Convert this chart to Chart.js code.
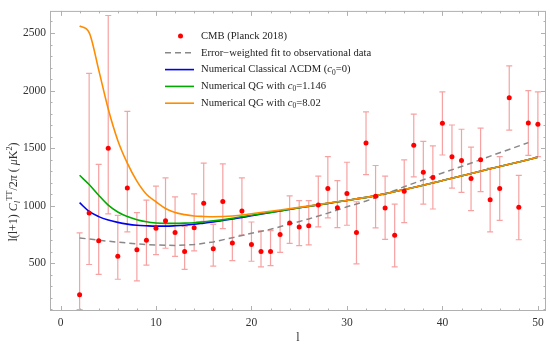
<!DOCTYPE html>
<html>
<head>
<meta charset="utf-8">
<script src="https://cdn.jsdelivr.net/npm/chart.js@4.4.0/dist/chart.umd.min.js"></script>
<style>
  html, body { margin: 0; padding: 0; background: #fff; }
</style>
</head>
<body>
<canvas id="myChart" width="550" height="345"></canvas>
<script>
// Planck 2018 TT low-l points
const ells = [2,3,4,5,6,7,8,9,10,11,12,13,14,15,16,17,18,19,20,21,22,23,24,25,26,
  27,28,29,30,31,32,33,34,35,36,37,38,39,40,41,42,43,44,45,46,47,48,49,50];
const cmb = [227,937,696,1499,560,1153,617,699,804,869,767,602,809,1022,625,1037,676,954,662,602,602,750,849,815,826,
  1005,1150,983,1105,767,1545,1082,980,744,1125,1525,1290,1244,1715,1426,1392,1235,1400,1051,1150,1937,986,1718,1707];
const cmbHigh = [764,2150,1358,2652,915,1820,940,1048,1170,1241,1077,821,1102,1369,838,1363,886,1241,858,781,784,957,1085,1043,1043,
  1256,1426,1218,1377,1034,1814,1349,1256,1014,1397,1795,1559,1520,1988,1701,1664,1508,1673,1326,1426,2215,1264,1999,1988];
const cmbLow = [97,489,404,928,361,773,347,483,574,630,560,446,608,864,474,801,523,744,517,468,480,594,673,653,659,
  815,894,809,830,494,1269,807,707,469,852,1250,1014,971,1440,1153,1116,957,1122,773,872,1656,704,1437,1426];

// error-weighted fit
const fitL = [2,4,6,8,10,12,14,16,18,20,22,24,26,28,30,32,34,36,38,40,42,44,46,49];
const fitVals = [720,700,683,668,658,655,662,685,722,760,795,840,885,935,990,1040,1100,1165,1225,1284,1340,1400,1460,1548];

// model curves
const curveL = [2,3,4,5,6,7,8,9,10,11,12,13,14,15,16,18,20,22,25,28,30,33,36,40,45,50];
const lcdm = [1026,950,905,875,855,840,830,825,822,822,825,830,838,848,858,884,912,940,982,1020,1045,1087,1140,1218,1320,1420];
const qg1 = [1264,1184,1090,1005,945,905,878,860,850,846,846,848,852,860,868,890,917,942,982,1020,1045,1087,1140,1218,1320,1420];
const qg8 = [2561,2504,2180,1840,1567,1369,1213,1099,1034,975,940,922,910,906,904,910,930,952,985,1022,1045,1087,1140,1218,1320,1420];

const xTicks = [0,10,20,30,40,50];
const yTicks = [500,1000,1500,2000,2500];

const FONT = '"Liberation Serif", "Times New Roman", serif';

const toXY = (xs, ys) => xs.map((x, i) => ({x: x, y: ys[i]}));

// draw text made of pieces: [text, style], style '' | 'i' | 'sub' | 'isub' | 'sup'
function drawRich(ctx, parts, x, y, size, measureOnly) {
    let cx = x;
    parts.forEach(([t, s]) => {
        let fs = size, dy = 0;
        if (s.includes('sub')) { fs = size * 0.7; dy = size * 0.28; }
        if (s.includes('sup')) { fs = size * 0.7; dy = -size * 0.38; }
        ctx.font = (s.startsWith('i') ? 'italic ' : '') + fs + 'px ' + FONT;
        if (!measureOnly) ctx.fillText(t, cx, y + dy);
        cx += ctx.measureText(t).width;
    });
    return cx - x;
}

// error bars under the points
const errorBars = {
    id: 'errorBars',
    beforeDatasetsDraw(chart) {
        const {ctx, chartArea: a, scales: {x, y}} = chart;
        ctx.save();
        ctx.beginPath();
        ctx.rect(a.left, a.top, a.right - a.left, a.bottom - a.top);
        ctx.clip();
        ctx.strokeStyle = 'rgba(240, 70, 70, 0.5)';
        ctx.lineWidth = 1.2;
        ells.forEach((l, i) => {
            const px = x.getPixelForValue(l);
            const top = y.getPixelForValue(cmbHigh[i]);
            const bot = y.getPixelForValue(cmbLow[i]);
            ctx.beginPath();
            ctx.moveTo(px, top); ctx.lineTo(px, bot);
            ctx.moveTo(px - 3, top); ctx.lineTo(px + 3, top);
            ctx.moveTo(px - 3, bot); ctx.lineTo(px + 3, bot);
            ctx.stroke();
        });
        ctx.restore();
    }
};

// Mathematica style frame with inward ticks, y title, legend
const frame = {
    id: 'frame',
    afterDraw(chart) {
        const {ctx, chartArea: a, scales: {x, y}} = chart;
        ctx.save();
        ctx.strokeStyle = '#b0b0b0';
        ctx.lineWidth = 1;
        ctx.strokeRect(a.left + 0.5, a.top + 0.5, a.right - a.left - 1, a.bottom - a.top - 1);
        ctx.beginPath();
        for (let v = 0; v <= 50; v += 2) {
            const px = Math.round(x.getPixelForValue(v)) + 0.5;
            const len = v % 10 === 0 ? 5 : 2.5;
            ctx.moveTo(px, a.bottom); ctx.lineTo(px, a.bottom - len);
            ctx.moveTo(px, a.top); ctx.lineTo(px, a.top + len);
        }
        for (let v = 100; v <= 2600; v += 100) {
            const py = Math.round(y.getPixelForValue(v)) + 0.5;
            const len = v % 500 === 0 ? 5 : 2.5;
            ctx.moveTo(a.left, py); ctx.lineTo(a.left + len, py);
            ctx.moveTo(a.right, py); ctx.lineTo(a.right - len, py);
        }
        ctx.stroke();

        // y axis title
        const yTitle = [['l(l+1) ', ''], ['C', 'i'], ['l', 'isub'], ['TT', 'sup'], ['/2', ''], ['π', 'i'],
            [' ( ', ''], ['μ', 'i'], ['K', ''], ['2', 'sup'], [')', '']];
        ctx.fillStyle = '#333';
        ctx.textBaseline = 'middle';
        const w = drawRich(ctx, yTitle, 0, 0, 12, true);
        ctx.translate(14, 192);
        ctx.rotate(-Math.PI / 2);
        drawRich(ctx, yTitle, -w / 2, 0, 12);
        ctx.restore();

        // legend
        const rows = [
            [['CMB (Planck 2018)', '']],
            [['Error\u2212weighted fit to observational data', '']],
            [['Numerical Classical \u039BCDM (', ''], ['c', 'i'], ['0', 'sub'], ['=0)', '']],
            [['Numerical QG with ', ''], ['c', 'i'], ['0', 'sub'], ['=1.146', '']],
            [['Numerical QG with ', ''], ['c', 'i'], ['0', 'sub'], ['=8.02', '']]
        ];
        ctx.save();
        ctx.textBaseline = 'middle';
        rows.forEach((parts, i) => {
            const ds = chart.data.datasets[i];
            const ry = 36 + i * 16.8;
            if (i === 0) {
                ctx.fillStyle = ds.backgroundColor;
                ctx.beginPath();
                ctx.arc(180.5, ry, 2.5, 0, Math.PI * 2);
                ctx.fill();
            } else {
                ctx.strokeStyle = ds.borderColor;
                ctx.lineWidth = ds.borderWidth;
                ctx.setLineDash(ds.borderDash || []);
                ctx.beginPath();
                ctx.moveTo(165, ry); ctx.lineTo(194, ry);
                ctx.stroke();
                ctx.setLineDash([]);
            }
            ctx.fillStyle = '#222';
            drawRich(ctx, parts, 201, ry, 10.6);
        });
        ctx.restore();
    }
};

const ctx = document.getElementById('myChart').getContext('2d');
const myChart = new Chart(ctx, {
    type: 'scatter',
    data: {
        datasets: [{
            label: 'CMB (Planck 2018)',
            data: toXY(ells, cmb),
            backgroundColor: '#ff0000',
            borderWidth: 0,
            pointRadius: 2.5,
            order: 0
        }, {
            label: 'Error-weighted fit to observational data',
            data: toXY(fitL, fitVals),
            showLine: true,
            borderColor: '#888888',
            borderWidth: 1.5,
            borderDash: [6, 4],
            pointRadius: 0,
            order: 4
        }, {
            label: 'Numerical Classical LCDM (c0=0)',
            data: toXY(curveL, lcdm),
            showLine: true,
            borderColor: '#0000ee',
            borderWidth: 1.6,
            pointRadius: 0,
            cubicInterpolationMode: 'monotone',
            order: 3
        }, {
            label: 'Numerical QG with c0=1.146',
            data: toXY(curveL, qg1),
            showLine: true,
            borderColor: '#00aa00',
            borderWidth: 1.6,
            pointRadius: 0,
            cubicInterpolationMode: 'monotone',
            order: 2
        }, {
            label: 'Numerical QG with c0=8.02',
            data: toXY(curveL, qg8),
            showLine: true,
            borderColor: '#ff8c00',
            borderWidth: 1.6,
            pointRadius: 0,
            cubicInterpolationMode: 'monotone',
            order: 1
        }]
    },
    options: {
        responsive: false,
        animation: false,
        devicePixelRatio: 1,
        layout: { padding: { top: 5, right: 4, left: 0, bottom: 0 } },
        plugins: { legend: { display: false }, tooltip: { enabled: false } },
        scales: {
            x: {
                type: 'linear',
                min: -1.1,
                max: 50.85,
                grid: { display: false, drawTicks: false },
                border: { display: false },
                afterBuildTicks: (s) => { s.ticks = xTicks.map(v => ({value: v})); },
                afterFit: (s) => { s.height = 34; },
                ticks: { includeBounds: false, autoSkip: false, maxRotation: 0, padding: 5,
                    callback: (v) => String(v),
                    color: '#333', font: { family: FONT, size: 11.5 } },
                title: { display: true, text: 'l', color: '#333', padding: { top: 2, bottom: 0 },
                    font: { family: FONT, size: 12 } }
            },
            y: {
                type: 'linear',
                min: 85,
                max: 2692,
                grid: { display: false, drawTicks: false },
                border: { display: false },
                afterBuildTicks: (s) => { s.ticks = yTicks.map(v => ({value: v})); },
                afterFit: (s) => { s.width = 50; },
                ticks: { includeBounds: false, autoSkip: false, padding: 4,
                    callback: (v) => String(v),
                    color: '#333', font: { family: FONT, size: 11.5 } }
            }
        }
    },
    plugins: [errorBars, frame]
});
</script>
</body>
</html>
